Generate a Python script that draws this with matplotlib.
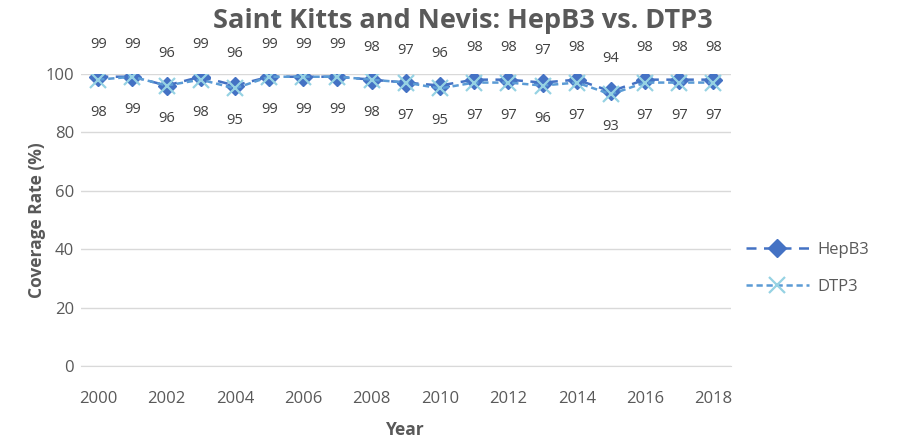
import matplotlib.pyplot as plt
import numpy as np

plt.rcParams['font.family'] = ['Open Sans', 'DejaVu Sans']

years = list(range(2000, 2019))
hepb3 = [99, 99, 96, 99, 96, 99, 99, 99, 98, 97, 96, 98, 98, 97, 98, 94, 98, 98, 98]
dtp3 = [98, 99, 96, 98, 95, 99, 99, 99, 98, 97, 95, 97, 97, 96, 97, 93, 97, 97, 97]
xticks = list(range(2000, 2019, 2))

fig = plt.figure(figsize=(9.12, 4.42), dpi=100)
ax = fig.add_axes([0.089, 0.172, 0.712, 0.661])

hep_color = '#4472C4'
dtp_line = '#5B9BD5'
dtp_marker = '#96D2E3'

ax.plot(years, hepb3, color=hep_color, linestyle=(0, (4, 3)), linewidth=1.8,
        marker='D', markersize=9, markerfacecolor=hep_color,
        markeredgecolor=hep_color, label='HepB3', zorder=3)
ax.plot(years, dtp3, color=dtp_line, linestyle=(0, (2.5, 1.5)), linewidth=1.8,
        marker='x', markersize=12, markeredgewidth=1.6,
        markeredgecolor=dtp_marker, label='DTP3', zorder=4)

for x, h, d in zip(years, hepb3, dtp3):
    ax.annotate(str(h), (x, h), xytext=(0, 18), textcoords='offset points',
                ha='center', va='bottom', fontsize=10.5, color='#404040')
    ax.annotate(str(d), (x, d), xytext=(0, -18), textcoords='offset points',
                ha='center', va='top', fontsize=10.5, color='#404040')

ax.set_xlim(1999.5, 2018.5)
ax.set_ylim(0, 100)
ax.set_yticks(range(0, 101, 20))
ax.set_xticks(xticks)
ax.tick_params(axis='both', length=0, labelsize=12, labelcolor='#595959')
ax.tick_params(axis='x', pad=18)
ax.tick_params(axis='y', pad=5)
ax.grid(axis='y', color='#D9D9D9', linewidth=1)
ax.set_axisbelow(True)
for side in ['top', 'right', 'left']:
    ax.spines[side].set_visible(False)
ax.spines['bottom'].set_color('#D9D9D9')

ax.set_xlabel('Year', fontsize=12.5, fontweight='bold', color='#595959', labelpad=10)
ax.set_ylabel('Coverage Rate (%)', fontsize=12.5, fontweight='bold', color='#595959', labelpad=0)
fig.text(0.508, 0.952, 'Saint Kitts and Nevis: HepB3 vs. DTP3', ha='center', va='center',
         fontsize=19.5, fontweight='bold', color='#595959')

leg = ax.legend(loc='center left', bbox_to_anchor=(1.0, 0.335), frameon=False,
                fontsize=12, labelspacing=1.25, handlelength=3.8, handletextpad=0.5)
for t in leg.get_texts():
    t.set_color('#595959')

fig.savefig('out.png', dpi=100)
